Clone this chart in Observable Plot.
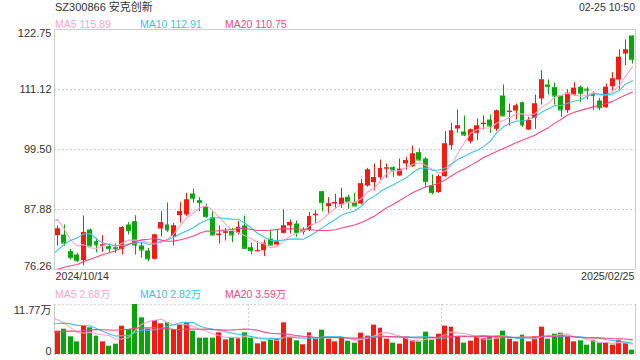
<!DOCTYPE html>
<html><head><meta charset="utf-8">
<script src="https://cdn.jsdelivr.net/npm/d3@7"></script>
<script src="https://cdn.jsdelivr.net/npm/@observablehq/plot@0.6"></script>
<style>
html,body{margin:0;padding:0;background:#fff;}
#root{position:relative;width:640px;height:360px;overflow:hidden;font-family:"Liberation Sans",Arial,"Noto Sans CJK SC",sans-serif;}
#root svg{position:absolute;left:0;}
.t{position:absolute;white-space:nowrap;line-height:1;}
</style></head><body><div id="root"></div>
<script>
const title = "SZ300866 安克创新";
const timeLabel = "02-25 10:50";
const dateLabels = ["2024/10/14", "2025/02/25"];
const priceTicks = [76.26, 87.88, 99.50, 111.12, 122.75];
const priceTickLabels = ["76.26", "87.88", "99.50", "111.12", "122.75"];
const volumeTicks = [0, 11.77];
const volumeTickLabels = ["0", "11.77万"];
const maNames = ["MA5", "MA10", "MA20"];
const maWindows = [5, 10, 20];
const priceMaLegend = ["115.89", "112.91", "110.75"];
const volumeMaLegend = ["2.68万", "2.82万", "3.59万"];

const opens = [82.81,82.94,79.71,79.07,77.96,83.91,81.64,80.75,80.68,80.48,
80.10,84.88,85.52,80.81,79.84,78.24,84.10,84.88,82.61,86.68,
86.82,90.88,89.59,88.42,86.29,82.88,83.27,83.66,83.27,84.69,
80.48,79.78,79.90,82.11,81.00,83.27,84.69,85.07,83.47,83.78,
86.68,91.33,88.42,88.95,88.75,90.25,89.20,88.95,92.43,93.07,
94.04,95.73,95.98,94.37,96.70,96.17,98.89,97.66,92.43,91.14,
94.24,100.24,103.48,102.89,101.02,102.64,104.31,105.22,103.42,109.87,
106.71,106.96,108.57,103.28,105.55,109.29,112.00,111.48,109.87,107.02,
109.93,111.55,111.20,110.20,108.90,107.60,111.67,112.97,118.00,121.49];
const highs = [84.69,84.88,80.17,79.40,86.62,84.10,82.30,82.81,81.20,81.20,
84.55,85.33,86.68,81.45,80.36,83.08,87.46,89.14,85.20,89.20,
91.00,91.85,90.17,88.89,87.46,84.69,84.24,84.24,85.52,86.62,
81.33,81.64,81.97,83.91,83.91,87.81,85.85,85.65,84.36,87.26,
87.65,91.40,90.17,90.83,91.99,90.69,91.02,93.73,95.86,96.70,
97.47,96.70,96.17,97.66,97.99,100.18,99.60,97.99,94.57,94.57,
102.95,104.58,107.16,106.00,103.48,105.41,106.00,106.19,107.16,112.00,
108.32,108.32,108.70,105.74,110.06,114.77,112.97,112.33,109.90,111.03,
112.44,111.80,111.55,110.70,109.42,112.19,114.38,118.78,120.72,121.49];
const lows = [80.81,80.68,78.10,77.58,76.94,80.68,79.51,79.59,79.51,79.40,
79.07,82.94,79.07,78.43,77.77,78.10,82.61,83.47,80.81,85.20,
86.49,89.08,87.46,86.18,82.75,81.20,81.78,81.45,82.94,80.17,
79.07,79.71,78.74,80.81,80.87,83.14,83.14,82.49,82.94,83.59,
85.20,87.46,87.14,88.12,88.12,87.92,88.50,88.75,92.20,91.52,
93.59,93.93,94.12,94.30,95.53,96.06,97.33,92.18,90.69,91.02,
94.12,99.41,102.64,101.98,100.57,101.21,103.28,102.64,102.95,105.86,
104.06,105.22,103.80,103.20,103.42,108.12,110.06,108.12,105.74,106.52,
109.73,108.57,109.09,107.02,107.02,107.49,110.84,111.17,115.74,116.07];
const closes = [84.10,81.39,78.55,77.96,83.39,80.81,81.00,81.00,80.29,80.29,
84.36,83.78,81.00,80.04,78.30,82.94,85.33,83.91,84.69,87.46,
89.72,90.05,89.20,86.49,82.94,83.08,83.52,82.94,84.43,80.36,
79.90,79.90,81.33,81.00,81.58,84.69,85.33,83.39,83.72,86.49,
86.95,89.20,88.95,89.20,90.05,89.39,88.56,92.85,95.53,94.04,
95.79,95.92,95.53,95.67,97.33,98.63,97.47,93.27,91.14,94.24,
100.57,103.09,104.06,102.31,103.28,104.06,104.58,104.06,106.96,106.00,
106.90,107.93,104.25,105.08,108.32,112.97,111.67,109.87,107.16,110.39,
111.36,110.39,111.00,109.93,107.60,111.55,113.16,117.36,118.78,116.98];
// volumes in 万
const volumes = [5.49,5.96,4.16,2.98,6.75,6.28,4.32,2.98,1.96,2.43,
6.67,5.89,11.77,8.63,5.96,8.00,7.22,7.53,5.89,6.98,
7.45,5.49,3.85,3.85,3.85,5.10,3.45,3.92,3.69,5.10,
3.77,2.51,2.98,3.53,3.61,7.45,3.92,3.22,2.28,5.10,
3.69,5.73,3.61,2.98,4.00,3.14,2.67,5.02,4.32,6.91,
6.20,3.61,2.67,2.43,3.92,3.22,3.14,5.26,3.37,4.79,
6.67,6.43,4.16,2.67,3.14,4.16,3.77,4.16,3.92,5.49,
3.61,2.98,4.55,2.98,4.16,6.43,3.61,4.79,5.02,4.16,
2.98,3.22,2.20,3.37,2.67,2.67,2.20,3.37,2.75,1.02];
// sessions before the visible window (estimated from where the MA lines start)
const priorCloses = [73.5,73.0,72.8,72.2,71.8,72.0,72.5,72.4,72.6,73.2,70.0,71.0,73.0,76.0,80.0,91.4,88.5,84.0,82.0];
const priorVolumes = [3.0,3.2,3.5,3.1,3.4,3.3,3.6,3.2,3.3,3.4,5.0,6.0,6.5,7.0,7.5,10.0,9.5,8.5,7.5];

const RED = "#f31b12", GREEN = "#07a507";
const MA_COLORS = ["#f9a6c4", "#3cc3e4", "#ef4a7e"];
const GRID = "#d2d2d2", BORDER = "#cccccc", TEXT = "#333333";
const FONT = '"Liberation Sans", Arial, "Noto Sans CJK SC", sans-serif';

const n = closes.length;
const candles = closes.map((c, i) => ({i, open: opens[i], high: highs[i], low: lows[i], close: c, volume: volumes[i], up: c >= opens[i]}));
const colorOf = d => d.up ? RED : GREEN;
const maPrice = priorCloses.map((v, j) => ({x: j - priorCloses.length + 0.5, v})).concat(closes.map((v, i) => ({x: i + 0.5, v})));
const maVol = priorVolumes.map((v, j) => ({x: j - priorVolumes.length + 0.5, v})).concat(volumes.map((v, i) => ({x: i + 0.5, v})));

const root = document.getElementById("root");

function maLines(data) {
  return maWindows.map((k, m) => Plot.lineY(data, Plot.windowY({k, anchor: "end", reduce: "mean"}, {x: "x", y: "v", stroke: MA_COLORS[m], strokeWidth: 1.1, clip: true})));
}

const main = Plot.plot({
  width: 640, height: 286,
  marginTop: 29, marginBottom: 17, marginLeft: 54, marginRight: 5,
  x: {domain: [0, n], axis: null, round: true},
  y: {domain: [priceTicks[0], priceTicks[priceTicks.length - 1]], axis: null},
  style: {fontFamily: FONT, fontSize: "11px", color: TEXT, background: "transparent", overflow: "visible"},
  marks: [
    Plot.ruleY(priceTicks.slice(1, -1), {stroke: GRID, strokeDasharray: "2,2", strokeWidth: 1.2}),
    Plot.ruleX(candles, {x: d => d.i + 0.5, y1: "low", y2: "high", stroke: colorOf}),
    Plot.rect(candles, {x1: d => d.i + 0.12, x2: d => d.i + 0.88, y1: "open", y2: "close", fill: colorOf}),
    Plot.ruleY(candles, {x1: d => d.i + 0.12, x2: d => d.i + 0.88, y: "close", stroke: colorOf}),
    ...maLines(maPrice),
    Plot.ruleX([0, n], {stroke: BORDER}),
    Plot.ruleY([priceTicks[0], priceTicks[priceTicks.length - 1]], {stroke: BORDER}),
    Plot.text([priceTicks.length - 1], {y: i => priceTicks[i], text: i => priceTickLabels[i], frameAnchor: "left", dx: -3, textAnchor: "end", lineAnchor: "top", dy: 0, fill: TEXT, fontSize: 11}),
    Plot.text([1, 2, 3], {y: i => priceTicks[i], text: i => priceTickLabels[i], frameAnchor: "left", dx: -3, textAnchor: "end", lineAnchor: "middle", fill: TEXT, fontSize: 11}),
    Plot.text([0], {y: i => priceTicks[i], text: i => priceTickLabels[i], frameAnchor: "left", dx: -3, textAnchor: "end", lineAnchor: "bottom", fill: TEXT, fontSize: 11}),
    Plot.text([dateLabels[0]], {x: 0, text: d => d, frameAnchor: "bottom", textAnchor: "start", lineAnchor: "top", dx: 1, dy: 3, fill: TEXT, fontSize: 10.7}),
    Plot.text([dateLabels[1]], {x: n, text: d => d, frameAnchor: "bottom", textAnchor: "end", lineAnchor: "top", dx: -1, dy: 3, fill: TEXT, fontSize: 10.7})
  ]
});
main.style.top = "0px";
root.appendChild(main);

const vol = Plot.plot({
  width: 640, height: 60,
  marginTop: 4, marginBottom: 6, marginLeft: 54, marginRight: 5,
  x: {domain: [0, n], axis: null, round: true},
  y: {domain: [volumeTicks[0], volumeTicks[1]], axis: null},
  style: {fontFamily: FONT, fontSize: "11px", color: TEXT, background: "transparent", overflow: "visible"},
  marks: [
    Plot.ruleY(volumeTicks, {stroke: GRID, strokeDasharray: "2,2", strokeWidth: 1.2}),
    Plot.ruleX([n / 3, 2 * n / 3], {stroke: GRID, strokeDasharray: "2,2", strokeWidth: 1.2}),
    Plot.ruleX([0, n], {stroke: BORDER}),
    Plot.rect(candles, {x1: d => d.i + 0.12, x2: d => d.i + 0.88, y1: 0, y2: "volume", fill: colorOf}),
    ...maLines(maVol),
    Plot.text([1], {y: i => volumeTicks[i], text: i => volumeTickLabels[i], frameAnchor: "left", dx: -3, textAnchor: "end", lineAnchor: "top", dy: 1.5, fill: TEXT, fontSize: 11}),
    Plot.text([0], {y: i => volumeTicks[i], text: i => volumeTickLabels[i], frameAnchor: "left", dx: -3, textAnchor: "end", lineAnchor: "bottom", fill: TEXT, fontSize: 11})
  ]
});
vol.style.top = "300px";
root.appendChild(vol);

function addText(str, css) {
  const d = document.createElement("div");
  d.className = "t";
  d.textContent = str;
  Object.assign(d.style, css);
  root.appendChild(d);
}
addText(title, {left: "55px", top: "2px", fontSize: "11px", color: TEXT});
addText(timeLabel, {right: "5px", top: "2px", fontSize: "10.5px", color: TEXT});
const legendX = [55, 140, 225];
maNames.forEach((name, m) => {
  addText(name + " " + priceMaLegend[m], {left: legendX[m] + "px", top: "18.5px", fontSize: "10.5px", color: MA_COLORS[m]});
  addText(name + " " + volumeMaLegend[m], {left: legendX[m] + "px", top: "289.3px", fontSize: "10.5px", color: MA_COLORS[m]});
});
</script></body></html>
